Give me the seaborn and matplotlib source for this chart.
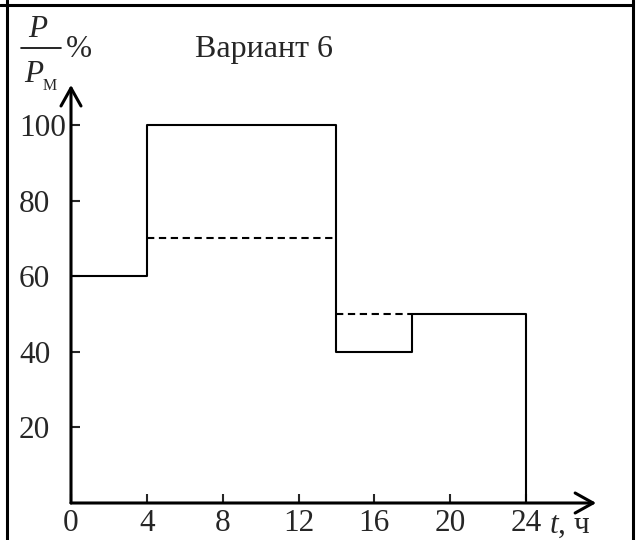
import pandas as pd
import matplotlib.pyplot as plt
import seaborn as sns
from matplotlib.lines import Line2D

sns.set_style("white")
plt.rcParams['font.family'] = ['Liberation Serif', 'DejaVu Serif']
plt.rcParams['mathtext.fontset'] = 'custom'
plt.rcParams['mathtext.rm'] = 'Liberation Serif'
plt.rcParams['mathtext.it'] = 'Liberation Serif:italic'

# load schedule, % of max, step changes at these hours
hours = [0, 4, 14, 18, 24, 24]
load = [60, 100, 40, 50, 50, 0]

# dashed averaged levels
avg_level = [70, 50]
avg_start = [4, 14]
avg_end = [14, 18]

x_ticks = [0, 4, 8, 12, 16, 20, 24]
y_ticks = [20, 40, 60, 80, 100]
title = 'Вариант 6'

W, H = 636, 540
fig = plt.figure(figsize=(W / 100, H / 100), dpi=100)
fig.patch.set_facecolor('white')


def px(x, y):
    return x / W, 1 - y / H


# axes: x 0..28 h, y 0..112 %
ax = fig.add_axes([71 / W, 37 / H, 28 * 18.96 / W, 112 * 3.78 / H])
ax.set_xlim(0, 28)
ax.set_ylim(0, 112)
ax.set_facecolor('none')
for s in ax.spines.values():
    s.set_visible(False)

df = pd.DataFrame({'t': hours, 'p': load})
sns.lineplot(data=df, x='t', y='p', ax=ax, estimator=None, sort=False,
             drawstyle='steps-post', color='black', linewidth=1.5)
ax.hlines(avg_level, avg_start, avg_end, colors='black', linewidth=1.5,
          linestyles=(0, (3.5, 2.2)))

# axes with arrows
arrow = dict(arrowstyle='->, head_length=0.43, head_width=0.24',
             color='black', lw=2.2, shrinkA=0, shrinkB=0, mutation_scale=30)
ax.annotate('', xy=(27.7, 0), xytext=(0, 0), arrowprops=arrow, annotation_clip=False)
ax.annotate('', xy=(0, 110.6), xytext=(0, 0), arrowprops=arrow, annotation_clip=False)

ax.set_xticks(x_ticks)
ax.set_xticklabels([str(v) for v in x_ticks])
ax.set_yticks(y_ticks)
ax.set_yticklabels([str(v) for v in y_ticks])
ax.tick_params(axis='x', direction='in', length=6.5, width=1.5, pad=4.5,
               labelsize=22.5, bottom=True)
ax.tick_params(axis='y', direction='in', length=6.5, width=1.5, pad=37.4,
               labelsize=22.5, left=True)
for lbl in ax.get_yticklabels():
    lbl.set_horizontalalignment('left')
ax.set_xlabel('')
ax.set_ylabel('')

ax.text(26.3, -2.2, '$t$, ч', fontsize=22.5, ha='center', va='top')

# y label as fraction P / P_M %
fig.text(*px(38, 37), 'P', fontsize=22.5, style='italic', ha='center', va='baseline')
fig.add_artist(Line2D([21 / W, 61 / W], [1 - 48 / H] * 2, color='black', lw=1.2))
fig.text(*px(34, 82), 'P', fontsize=22.5, style='italic', ha='center', va='baseline')
fig.text(*px(43, 90), 'М', fontsize=11.5, ha='left', va='baseline')
fig.text(*px(66, 57), '%', fontsize=22.5, ha='left', va='baseline')

fig.text(*px(264, 57), title, fontsize=23, ha='center', va='baseline')

# table frame
for xs, ys in [([0, 633], [5, 5]), ([7, 7], [0, 540]), ([633, 633], [0, 540])]:
    fig.add_artist(Line2D([x / W for x in xs], [1 - y / H for y in ys],
                          color='black', lw=2.2))

fig.savefig('out.png', dpi=100)
